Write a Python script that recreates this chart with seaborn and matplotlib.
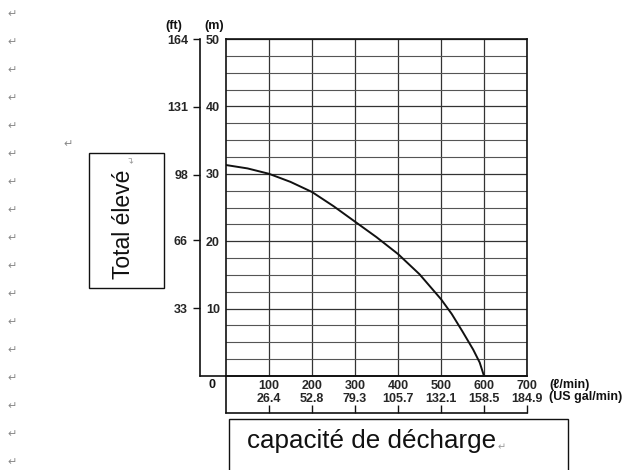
# pump_curve.py
# redraw of the scanned pump head/capacity chart

import numpy as np
import pandas as pd
import matplotlib
matplotlib.use("Agg")
import matplotlib.pyplot as plt
import seaborn as sns
from matplotlib.patches import Rectangle

# ========== data ==========
flow_lpm = [0, 50, 100, 150, 200, 250, 300, 350, 400, 450, 500, 525, 550, 575, 590, 600]
head_m = [31.3, 30.8, 30.0, 28.8, 27.3, 25.2, 22.9, 20.6, 18.1, 15.1, 11.4, 9.2, 6.6, 3.9, 2.0, 0.0]

x_ticks_lpm = [100, 200, 300, 400, 500, 600, 700]
x_ticks_gal = ["26.4", "52.8", "79.3", "105.7", "132.1", "158.5", "184.9"]
m_ticks = [10, 20, 30, 40, 50]
ft_ticks = [33, 66, 98, 131, 164]

y_label = "Total élevé"
x_label = "capacité de décharge"

W, H = 644, 470
PT = 0.72  # points per pixel at dpi 100
FT_PER_M = 3.2808

sns.set_style("white")
plt.rcParams['font.family'] = ['Liberation Sans', 'DejaVu Sans']


def fx(x):
    return x / W


def fy(y):
    return 1 - y / H


def main():
    fig = plt.figure(figsize=(W / 100, H / 100), dpi=100)
    ax = fig.add_axes([fx(226), fy(376), 301 / W, 337 / H])

    df = pd.DataFrame({"flow": flow_lpm, "head": head_m})
    sns.lineplot(data=df, x="flow", y="head", ax=ax, color="#111111", lw=1.4, sort=False)

    ax.set_xlim(0, 700)
    ax.set_ylim(0, 50)
    ax.set_xlabel("")
    ax.set_ylabel("")

    # grid: every 100 l/min, every 2.5 m
    ax.set_xticks(x_ticks_lpm)
    ax.set_xticklabels([f"{a}\n{b}" for a, b in zip(x_ticks_lpm, x_ticks_gal)],
                       fontsize=9, fontweight="bold", linespacing=1.05)
    ax.set_yticks(m_ticks)
    ax.set_yticklabels([str(v) for v in m_ticks], fontsize=9, fontweight="bold")
    ax.set_yticks(np.arange(2.5, 50, 2.5), minor=True)
    ax.tick_params(axis="both", which="both", length=0)
    ax.tick_params(axis="x", pad=3)
    ax.tick_params(axis="y", pad=6 * PT)
    ax.grid(True, which="major", axis="both", color="#333333", lw=0.9)
    ax.grid(True, which="minor", axis="y", color="#555555", lw=0.8)
    ax.set_axisbelow(True)
    for s in ax.spines.values():
        s.set_visible(True)
        s.set_color("#111111")
        s.set_linewidth(1.2)

    # bottom line runs left to the ft axis, left border runs down to the lower bracket
    ax.axhline(0, xmin=-26 / 301, xmax=1, color="#111111", lw=1.2, clip_on=False)
    ax.axvline(0, ymin=-37 / 337, ymax=0, color="#111111", lw=1.2, clip_on=False)

    # feet axis
    ax2 = ax.twinx()
    ax2.set_ylim(0, 50 * FT_PER_M)
    ax2.yaxis.set_ticks_position("left")
    ax2.spines["left"].set_position(("outward", 26 * PT))
    for side in ["right", "top", "bottom"]:
        ax2.spines[side].set_visible(False)
    ax2.spines["left"].set_color("#111111")
    ax2.spines["left"].set_linewidth(1.2)
    ax2.set_yticks(ft_ticks)
    ax2.set_yticklabels([str(v) for v in ft_ticks], fontsize=9, fontweight="bold")
    ax2.tick_params(axis="y", direction="out", length=7 * PT, width=1.0, pad=5 * PT, color="#111111")
    ax2.grid(False)

    # lower bracket with upward ticks
    sec = ax.secondary_xaxis(-37 / 337)
    sec.set_xticks(x_ticks_lpm)
    sec.set_xticklabels([""] * len(x_ticks_lpm))
    sec.tick_params(axis="x", direction="in", length=8 * PT, width=1.0, color="#111111")
    sec.spines["bottom"].set_color("#111111")
    sec.spines["bottom"].set_linewidth(1.2)

    bold = dict(fontsize=9, fontweight="bold", color="#111111")
    fig.text(fx(212), fy(385), "0", ha="center", va="center", **bold)
    fig.text(fx(174), fy(26), "(ft)", ha="center", va="center", **bold)
    fig.text(fx(214), fy(26), "(m)", ha="center", va="center", **bold)
    fig.text(fx(549), fy(385), "(ℓ/min)", ha="left", va="center", **bold)
    fig.text(fx(549), fy(397), "(US gal/min)", ha="left", va="center", **bold)

    # word text boxes
    fig.patches.append(Rectangle((fx(89), fy(288)), 75 / W, 135 / H, transform=fig.transFigure,
                                 fill=False, ec="#111111", lw=1.0))
    fig.text(fx(124), fy(224), y_label, rotation=90, ha="center", va="center",
             fontsize=16.5, color="#111111")
    fig.text(fx(132), fy(159), "↵", rotation=90, ha="center", va="center",
             fontsize=6.5, color="#999999", family=["DejaVu Sans"])

    fig.patches.append(Rectangle((fx(229), fy(475)), 339 / W, 56 / H, transform=fig.transFigure,
                                 fill=False, ec="#111111", lw=1.0))
    fig.text(fx(247), fy(441), x_label, ha="left", va="center", fontsize=18.7, color="#111111")
    fig.text(fx(498), fy(447), "↵", ha="left", va="center", fontsize=7,
             color="#999999", family=["DejaVu Sans"])

    # paragraph marks down the left margin
    for y in range(14, 470, 28):
        fig.text(fx(12), fy(y), "↵", ha="center", va="center", fontsize=8,
                 color="#888888", family=["DejaVu Sans"])
    fig.text(fx(68), fy(144), "↵", ha="center", va="center", fontsize=8,
             color="#888888", family=["DejaVu Sans"])

    fig.savefig("out.png", dpi=100)
    plt.close(fig)


if __name__ == '__main__':
    main()
